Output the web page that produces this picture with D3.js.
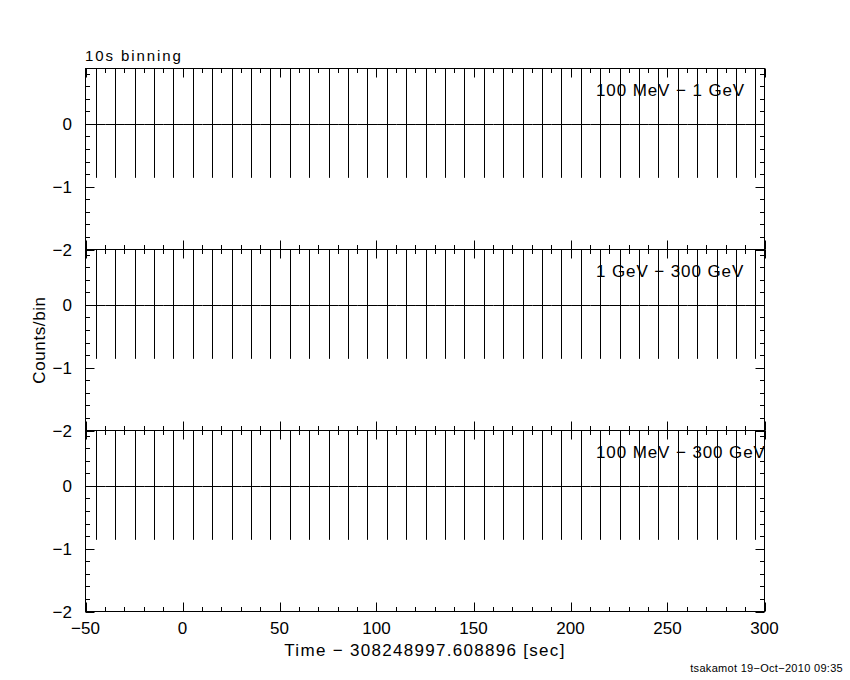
<!DOCTYPE html>
<html>
<head>
<meta charset="utf-8">
<script src="https://cdn.jsdelivr.net/npm/d3@7"></script>
<style>
  html, body { margin: 0; padding: 0; background: #fff; }
  svg text { font-family: "Liberation Sans", Arial, sans-serif; fill: #000; }
</style>
</head>
<body>
<svg id="chart" width="850" height="680"></svg>
<script>
// ---- data ----
const binCenters = [-44.7, -34.7, -24.7, -14.7, -4.7, 5.3, 15.3, 25.3, 35.3, 45.3,
  55.3, 65.3, 75.3, 85.3, 95.3, 105.3, 115.3, 125.3, 135.3, 145.3,
  155.3, 165.3, 175.3, 185.3, 195.3, 205.3, 215.3, 225.3, 235.3, 245.3,
  255.3, 265.3, 275.3, 285.3, 295.3];
const binHalfWidth = 5;
const countsLow  = [0,0,0,0,0,0,0,0,0,0,0,0,0,0,0,0,0,0,0,0,0,0,0,0,0,0,0,0,0,0,0,0,0,0,0];
const countsHigh = [0,0,0,0,0,0,0,0,0,0,0,0,0,0,0,0,0,0,0,0,0,0,0,0,0,0,0,0,0,0,0,0,0,0,0];
const countsAll  = [0,0,0,0,0,0,0,0,0,0,0,0,0,0,0,0,0,0,0,0,0,0,0,0,0,0,0,0,0,0,0,0,0,0,0];
const errDown = 0.86;
const errUp = 1.84;
const panelLabels = ["100 MeV \u2212 1 GeV", "1 GeV \u2212 300 GeV", "100 MeV \u2212 300 GeV"];
const panelSeries = [countsLow, countsHigh, countsAll];
const xDomain = [-50, 300];
const yDomain = [-2, 0.88];
const xMajorTicks = [-50, 0, 50, 100, 150, 200, 250, 300];
const xTickLabels = ["\u221250", "0", "50", "100", "150", "200", "250", "300"];
const yMajorTicks = [-2, -1, 0];
const yTickLabels = ["\u22122", "\u22121", "0"];
const title = "10s binning";
const xTitle = "Time \u2212 308248997.608896 [sec]";
const yTitle = "Counts/bin";
const footer = "tsakamot 19\u2212Oct\u22122010 09:35";

// ---- layout ----
const svg = d3.select("#chart");
const left = 85.5, right = 764.5;
const panelTops = [68.5, 249.5, 430.5];
const panelH = 181;

const x = d3.scaleLinear().domain(xDomain).range([left, right]);
const xMinor = d3.range(-50, 301, 10);
const yMinor = d3.range(-2, 0.81, 0.2).map(v => +v.toFixed(1));

panelTops.forEach((top, i) => {
  const bottom = top + panelH;
  const y = d3.scaleLinear().domain(yDomain).range([bottom, top]);
  const g = svg.append("g");
  const clipId = "clip" + i;
  svg.append("clipPath").attr("id", clipId).append("rect")
    .attr("x", left).attr("y", top).attr("width", right - left).attr("height", panelH);

  // frame
  g.append("rect").attr("x", left).attr("y", top).attr("width", right - left).attr("height", panelH)
    .attr("fill", "none").attr("stroke", "#000").attr("stroke-width", 1);

  // x ticks (top and bottom, inward)
  xMinor.forEach(v => {
    const major = Math.abs(v % 50) < 1e-9;
    const len = major ? 9 : 4.5;
    const px = Math.round(x(v)) + 0.5;
    g.append("line").attr("x1", px).attr("x2", px).attr("y1", top).attr("y2", top + len).attr("stroke", "#000");
    g.append("line").attr("x1", px).attr("x2", px).attr("y1", bottom).attr("y2", bottom - len).attr("stroke", "#000");
  });
  // y ticks (left and right, inward)
  yMinor.forEach(v => {
    const major = Math.abs(v - Math.round(v)) < 1e-9;
    const len = major ? 9 : 4.5;
    const py = Math.round(y(v)) + 0.5;
    g.append("line").attr("x1", left).attr("x2", left + len).attr("y1", py).attr("y2", py).attr("stroke", "#000");
    g.append("line").attr("x1", right).attr("x2", right - len).attr("y1", py).attr("y2", py).attr("stroke", "#000");
  });
  // y tick labels
  yMajorTicks.forEach((v, k) => {
    g.append("text").attr("x", 72).attr("y", y(v) + 6.5).attr("text-anchor", "end")
      .attr("font-size", 17).text(yTickLabels[k]);
  });

  // data: error bars
  const data = panelSeries[i].map((c, k) => ({ t: binCenters[k], c }));
  const dg = g.append("g").attr("clip-path", `url(#${clipId})`);
  dg.selectAll("line.h").data(data).enter().append("line")
    .attr("x1", d => x(d.t - binHalfWidth)).attr("x2", d => x(d.t + binHalfWidth))
    .attr("y1", d => Math.round(y(d.c)) + 0.5).attr("y2", d => Math.round(y(d.c)) + 0.5)
    .attr("stroke", "#000");
  dg.selectAll("line.v").data(data).enter().append("line")
    .attr("x1", d => Math.round(x(d.t)) + 0.5).attr("x2", d => Math.round(x(d.t)) + 0.5)
    .attr("y1", d => y(d.c + errUp)).attr("y2", d => y(d.c - errDown))
    .attr("stroke", "#000");

  // panel label
  g.append("text").attr("x", 596).attr("y", top + 27.5).attr("font-size", 17)
    .attr("letter-spacing", 0.9).text(panelLabels[i]);

  // x tick labels on bottom panel
  if (i === panelTops.length - 1) {
    xMajorTicks.forEach((v, k) => {
      g.append("text").attr("x", x(v)).attr("y", bottom + 22).attr("text-anchor", "middle")
        .attr("font-size", 17).text(xTickLabels[k]);
    });
  }
});

// titles
svg.append("text").attr("x", 85).attr("y", 61).attr("font-size", 15).attr("letter-spacing", 1.9).text(title);
svg.append("text").attr("x", (left + right) / 2).attr("y", 656).attr("text-anchor", "middle")
  .attr("font-size", 17).attr("letter-spacing", 1.3).text(xTitle);
svg.append("text").attr("transform", "translate(45,340) rotate(-90)").attr("text-anchor", "middle")
  .attr("font-size", 17).attr("letter-spacing", 0.6).text(yTitle);
svg.append("text").attr("x", 843).attr("y", 672).attr("text-anchor", "end")
  .attr("font-size", 11).attr("letter-spacing", 0.3).text(footer);
</script>
</body>
</html>
